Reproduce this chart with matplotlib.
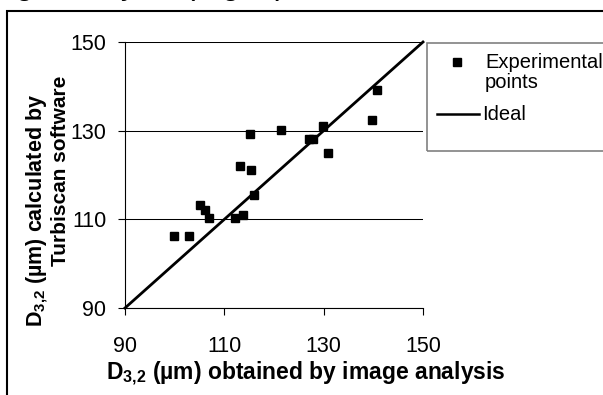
import matplotlib
matplotlib.use('Agg')
import matplotlib.pyplot as plt
from matplotlib.patches import Rectangle
from matplotlib.lines import Line2D

plt.rcParams['font.family'] = ['Liberation Sans', 'DejaVu Sans']
plt.rcParams['mathtext.fontset'] = 'custom'
plt.rcParams['mathtext.rm'] = 'Liberation Sans:bold'
plt.rcParams['mathtext.bf'] = 'Liberation Sans:bold'
plt.rcParams['mathtext.default'] = 'bf'

# D3,2 from image analysis (x) vs Turbiscan (y), in um
exp_x = [99.9, 102.8, 105.1, 106.1, 107.0, 112.1, 113.8, 113.1, 115.1,
         115.3, 115.9, 121.4, 127.1, 127.9, 129.8, 130.8, 139.7, 140.7]
exp_y = [106.2, 106.2, 113.2, 112.1, 110.2, 110.2, 111.0, 122.1, 129.3,
         121.1, 115.4, 130.1, 128.2, 128.2, 131.1, 125.0, 132.3, 139.1]
ideal_x = [90, 150]
ideal_y = [90, 150]
ticks = [90, 110, 130, 150]

W, H = 603, 395
fig = plt.figure(figsize=(W / 100, H / 100), dpi=100)


def px(x, y):
    # pixel (from top-left) -> figure fraction
    return x / W, 1 - y / H


# cropped caption line at the very top, only descenders remain
fig.text(-36 / W, 1 + 6 / H, 'image analysis (Fig. 5)', fontsize=23,
         va='baseline', ha='left')

# outer frame of the chart object, runs off the right/bottom edges
fig.patches.append(Rectangle(px(7, 420), 700 / W, 409 / H, transform=fig.transFigure,
                             fill=False, edgecolor='black', linewidth=1.5))

ax = fig.add_axes([125 / W, (H - 308) / H, 298 / W, 266 / H])
ax.plot(ideal_x, ideal_y, color='black', linewidth=2, clip_on=False, zorder=3)
ax.plot(exp_x, exp_y, linestyle='none', marker='s', markersize=6.3,
        color='black', zorder=4)

ax.set_xlim(90, 150)
ax.set_ylim(90, 150)
ax.set_xticks(ticks)
ax.set_yticks(ticks)
ax.yaxis.grid(True, color='black', linewidth=0.75)
ax.set_axisbelow(True)
for s in ['top', 'right']:
    ax.spines[s].set_visible(False)
for s in ['left', 'bottom']:
    ax.spines[s].set_linewidth(0.8)
ax.tick_params(direction='out', length=5, width=0.8, labelsize=15.5)
ax.tick_params(axis='x', pad=15.5)
ax.tick_params(axis='y', pad=8.5)

fig.text(106 / W, 1 - 374 / H, r'D$_{3{,}2}$ (µm) obtained by image analysis',
         fontsize=16.5, fontweight='bold', ha='left', va='center')
fig.text(37 / W, 1 - 327 / H, r'D$_{3{,}2}$ (µm) calculated by',
         fontsize=15.5, fontweight='bold', ha='center', va='bottom',
         rotation=90)
fig.text(61 / W, 1 - 171 / H, 'Turbiscan software',
         fontsize=15, fontweight='bold', ha='center', va='center',
         rotation=90)

# legend (gray frame, cut off at the right edge)
fig.patches.append(Rectangle(px(427, 151), 200 / W, 108 / H, transform=fig.transFigure,
                             fill=False, edgecolor='#808080', linewidth=1.2))
fig.add_artist(Line2D([457 / W], [1 - 62 / H], linestyle='none', marker='s',
                      markersize=5.5, color='black', transform=fig.transFigure))
fig.add_artist(Line2D([437 / W, 479 / W], [1 - 114 / H, 1 - 114 / H],
                      color='black', linewidth=1.8, transform=fig.transFigure))
fig.text(485 / W, 1 - 63 / H, 'Experimental', fontsize=14.5, va='center')
fig.text(485 / W, 1 - 83 / H, 'points', fontsize=14.5, va='center')
fig.text(482 / W, 1 - 114 / H, 'Ideal', fontsize=14.5, va='center')

fig.savefig('out.png', dpi=100)
